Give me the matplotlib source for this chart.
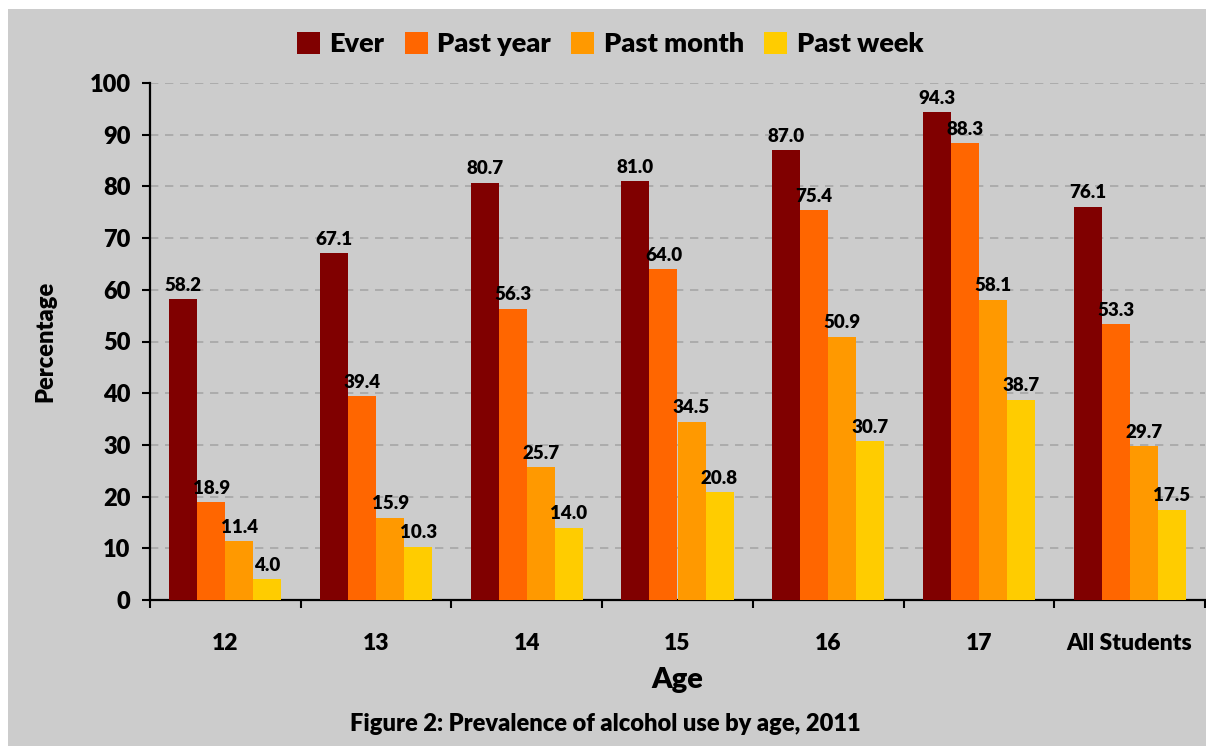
import matplotlib
matplotlib.use("Agg")
import matplotlib.pyplot as plt
from matplotlib.patches import Rectangle
from matplotlib.ticker import FixedLocator, NullFormatter
import numpy as np

plt.rcParams['font.family'] = ['Lato', 'DejaVu Sans']
plt.rcParams['font.weight'] = 'heavy'

ages = ["12", "13", "14", "15", "16", "17", "All Students"]
series_names = ["Ever", "Past year", "Past month", "Past week"]
ever = [58.2, 67.1, 80.7, 81.0, 87.0, 94.3, 76.1]
past_year = [18.9, 39.4, 56.3, 64.0, 75.4, 88.3, 53.3]
past_month = [11.4, 15.9, 25.7, 34.5, 50.9, 58.1, 29.7]
past_week = [4.0, 10.3, 14.0, 20.8, 30.7, 38.7, 17.5]
colors = ["#800000", "#ff6600", "#ff9900", "#ffcc00"]

fig = plt.figure(figsize=(12.06, 7.46), dpi=100, facecolor="white")
# grey chart area with a thin white strip top and left
bg = Rectangle((8 / 1206, 0), 1, 1 - 9 / 746, transform=fig.transFigure,
               facecolor="#cccccc", edgecolor="none", zorder=-10)
fig.add_artist(bg)

ax = fig.add_axes([150 / 1206, 1 - 600 / 746, 1055 / 1206, 517 / 746])
ax.set_facecolor("none")

x = np.arange(len(ages))
w = 0.186
all_series = [ever, past_year, past_month, past_week]
for k, vals in enumerate(all_series):
    pos = x + (k - 1.5) * w
    bars = ax.bar(pos, vals, width=w, color=colors[k], label=series_names[k], zorder=3)
    for b, v in zip(bars, vals):
        ax.annotate(f"{v:.1f}", (b.get_x() + b.get_width() / 2, v), xytext=(0, 4),
                    textcoords="offset points", ha="center", va="bottom",
                    fontsize=13.5)

ax.set_xlim(-0.5, len(ages) - 0.5)
ax.set_ylim(0, 100)
ax.set_yticks(range(0, 101, 10))
ax.yaxis.grid(True, linestyle=(0, (5, 4)), color="#a6a6a6", linewidth=1.2, zorder=0)
ax.set_axisbelow(True)

ax.set_xticks(x)
ax.set_xticklabels(ages)
ax.xaxis.set_minor_locator(FixedLocator(np.arange(-0.5, len(ages), 1)))
ax.xaxis.set_minor_formatter(NullFormatter())
ax.tick_params(axis="x", which="major", length=0, pad=24, labelsize=16.5)
ax.tick_params(axis="x", which="minor", length=6, width=1.5, direction="out")
ax.tick_params(axis="y", length=6, width=1.5, direction="out", pad=8, labelsize=17)

for s in ["top", "right"]:
    ax.spines[s].set_visible(False)
for s in ["left", "bottom"]:
    ax.spines[s].set_linewidth(1.6)

ax.set_ylabel("Percentage", fontsize=17, fontweight="heavy", labelpad=24)
ax.set_xlabel("Age", fontsize=21, fontweight="heavy", labelpad=9)

fig.legend(loc="center", bbox_to_anchor=(610 / 1206, 1 - 44 / 746), ncol=4, frameon=False,
           fontsize=19.5, handlelength=0.85, handleheight=0.85, handletextpad=0.35,
           columnspacing=0.75)

fig.text(605 / 1206, 1 - 724 / 746, "Figure 2: Prevalence of alcohol use by age, 2011",
         ha="center", va="center", fontsize=17)

fig.savefig("out.png", dpi=100, facecolor="white")
